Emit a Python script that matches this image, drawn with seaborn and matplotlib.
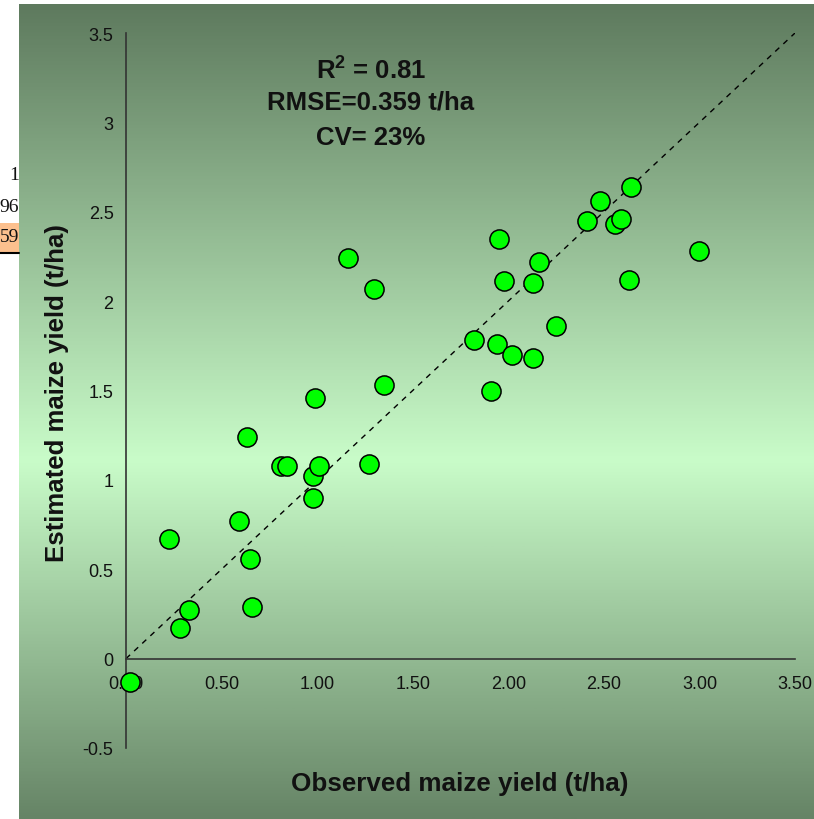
import numpy as np
import pandas as pd
import matplotlib
matplotlib.use("Agg")
import matplotlib.pyplot as plt
from matplotlib.colors import LinearSegmentedColormap
import seaborn as sns

# ---- data -------------------------------------------------------------
observed = [0.02, 0.225, 0.28, 0.33, 0.59, 0.635, 0.65, 0.66, 0.81, 0.84,
            0.98, 0.98, 0.99, 1.01, 1.16, 1.27, 1.30, 1.35, 1.82, 1.91,
            1.94, 1.95, 1.98, 2.02, 2.13, 2.13, 2.16, 2.25, 2.41, 2.48,
            2.56, 2.59, 2.63, 2.64, 3.00]
estimated = [-0.13, 0.67, 0.17, 0.27, 0.77, 1.24, 0.56, 0.29, 1.08, 1.08,
             0.90, 1.02, 1.46, 1.08, 2.24, 1.09, 2.07, 1.53, 1.78, 1.50,
             1.76, 2.35, 2.11, 1.70, 1.68, 2.10, 2.22, 1.86, 2.45, 2.56,
             2.43, 2.46, 2.12, 2.64, 2.28]
one_to_one = [0.0, 3.5]
x_ticks = [0.0, 0.5, 1.0, 1.5, 2.0, 2.5, 3.0, 3.5]
x_tick_labels = ["0.00", "0.50", "1.00", "1.50", "2.00", "2.50", "3.00", "3.50"]
y_ticks = [-0.5, 0.0, 0.5, 1.0, 1.5, 2.0, 2.5, 3.0, 3.5]
y_tick_labels = ["-0.5", "0", "0.5", "1", "1.5", "2", "2.5", "3", "3.5"]
stats_lines = [r"R$^\mathbf{2}$ = 0.81", "RMSE=0.359 t/ha", "CV= 23%"]
side_cells = ["1", "96", "59"]
x_label = "Observed maize yield (t/ha)"
y_label = "Estimated maize yield (t/ha)"

df = pd.DataFrame({"observed": observed, "estimated": estimated})

# ---- style ------------------------------------------------------------
sns.set_theme(style="white")
plt.rcParams["font.family"] = ["Liberation Sans", "DejaVu Sans"]
plt.rcParams["mathtext.fontset"] = "custom"
plt.rcParams["mathtext.rm"] = "Liberation Sans"
plt.rcParams["mathtext.bf"] = "Liberation Sans:bold"

W, H = 814, 820
fig = plt.figure(figsize=(W / 100, H / 100), dpi=100)
fig.patch.set_facecolor("white")

# gradient background panel
bg = fig.add_axes([19 / W, 0, (W - 19) / W, (H - 5) / H], zorder=-2)
cmap = LinearSegmentedColormap.from_list(
    "bg", [(0.0, "#5e7a5e"), (0.56, "#c9fcc9"), (1.0, "#668466")])
grad = np.linspace(0, 1, 512).reshape(-1, 1)
bg.imshow(grad, aspect="auto", cmap=cmap, extent=[0, 1, 0, 1], origin="upper")
bg.set_axis_off()

# spreadsheet cell remnants on the left
fig.patches.append(plt.Rectangle((0, 1 - 254 / H), 19 / W, 30 / H,
                                 transform=fig.transFigure, facecolor="#fcc08e",
                                 edgecolor="none", zorder=-1))
for txt, yy in zip(side_cells, [175, 208, 238]):
    fig.text(19 / W, 1 - yy / H, txt, ha="right", va="center",
             fontsize=14, family=["Liberation Serif", "DejaVu Serif"], color="#111111")
fig.add_artist(plt.Line2D([0, 19 / W], [1 - 254 / H, 1 - 254 / H],
                          transform=fig.transFigure, color="black", lw=1.5))

# main axes
left, right, top, bottom = 126, 795, 34, 749
ax = fig.add_axes([left / W, 1 - bottom / H, (right - left) / W, (bottom - top) / H])
ax.set_facecolor("none")

ax.plot(one_to_one, one_to_one, color="black", lw=1.0, ls=(0, (4, 4)), zorder=1)
sns.scatterplot(data=df, x="observed", y="estimated", ax=ax, s=190,
                color="#00ff00", edgecolor="black", linewidth=1.1, zorder=3,
                clip_on=False)

ax.set_xlim(0, 3.5)
ax.set_ylim(-0.5, 3.5)
ax.set_xticks(x_ticks)
ax.set_xticklabels(x_tick_labels)
ax.set_yticks(y_ticks)
ax.set_yticklabels(y_tick_labels)
ax.spines["top"].set_visible(False)
ax.spines["right"].set_visible(False)
ax.spines["bottom"].set_position(("data", 0))
for sp in ("left", "bottom"):
    ax.spines[sp].set_color("#333333")
    ax.spines[sp].set_linewidth(1.2)
ax.tick_params(axis="both", which="major", direction="out", length=5,
               width=1.2, color="#333333", labelsize=13, labelcolor="#111111")
ax.tick_params(axis="x", pad=7)
ax.tick_params(axis="y", pad=4)
ax.set_xlabel("")
ax.set_ylabel("")

# stats annotation
for txt, yy in zip(stats_lines, [70, 103, 138]):
    fig.text(371 / W, 1 - yy / H, txt, ha="center", va="center",
             fontsize=18.5, fontweight="bold", color="#111111")

fig.text(460 / W, 1 - 784 / H, x_label, ha="center", va="center",
         fontsize=18.7, fontweight="bold", color="#111111")
fig.text(57 / W, 1 - 393 / H, y_label, ha="center", va="center",
         rotation=90, fontsize=18.5, fontweight="bold", color="#111111")

fig.savefig("out.png", dpi=100)
